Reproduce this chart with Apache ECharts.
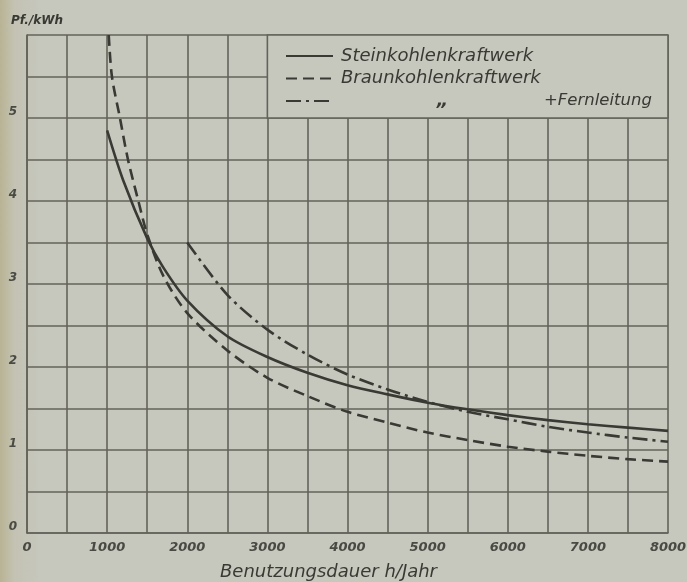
<!DOCTYPE html>
<html>
<head>
<meta charset="utf-8">
<script src="https://cdn.jsdelivr.net/npm/echarts@6/dist/echarts.min.js"></script>
<style>
html,body{margin:0;padding:0;width:687px;height:582px;overflow:hidden;
background:linear-gradient(to right,#b9b394 0px,#c3c2b3 14px,#c6c7bd 40px,#c6c7bd 100%);}
#c{width:687px;height:582px;}
</style>
</head>
<body>
<div id="c"></div>
<script>
// ---- data ----
const xTickLabels = ['0','1000','2000','3000','4000','5000','6000','7000','8000'];
const yTickLabels = ['0','1','2','3','4','5',''];

const seriesNames = ['Steinkohlenkraftwerk','Braunkohlenkraftwerk','Braunkohlenkraftwerk +Fernleitung'];

const steinHours = [1000,1200,1500,1700,2000,2500,3000,3500,4000,4500,5000,5500,6000,6500,7000,7500,8000];
const steinCost  = [4.85,4.25,3.55,3.2,2.8,2.37,2.12,1.93,1.78,1.67,1.57,1.49,1.42,1.36,1.31,1.27,1.23];

const braunHours = [1020,1060,1160,1260,1390,1500,1700,2000,2500,3000,3500,4000,4500,5000,5500,6000,6500,7000,7500,8000];
const braunCost  = [6.0,5.5,5.0,4.5,4.0,3.6,3.1,2.65,2.2,1.87,1.65,1.46,1.33,1.21,1.12,1.04,0.98,0.93,0.89,0.86];

const fernHours = [2000,2500,3000,3500,4000,4500,5000,5500,6000,6500,7000,7500,8000];
const fernCost  = [3.5,2.87,2.45,2.15,1.91,1.73,1.58,1.46,1.37,1.28,1.21,1.15,1.10];

const legendBox = [[3000,5],[8000,6]];

// ---- styling ----
const ink = '#3a3a35';
const gridInk = '#63635b';
const paper = '#c6c7bd';
const font = 'DejaVu Sans';

function pairs(xs, ys){ return xs.map((x,i)=>[x,ys[i]]); }

const chart = echarts.init(document.getElementById('c'), null, {renderer:'canvas'});
chart.setOption({
  backgroundColor: 'transparent',
  animation: false,
  grid: {left: 27, right: 19, top: 35, bottom: 49, containLabel: false, outerBoundsMode: 'none'},
  xAxis: {
    type: 'value', min: 0, max: 8000, interval: 1000,
    name: 'Benutzungsdauer h/Jahr', nameLocation: 'middle', nameGap: 30,
    nameTextStyle: {fontFamily: font, fontStyle: 'italic', fontSize: 18, color: ink, padding: [0, 38, 0, 0]},
    axisLine: {show: true, lineStyle: {color: gridInk, width: 1.6}},
    axisTick: {show: false},
    axisLabel: {
      margin: 8, fontFamily: font, fontStyle: 'italic', fontWeight: 'bold', fontSize: 13, color: '#4a4a44',
      formatter: (v) => xTickLabels[Math.round(v/1000)] ?? ''
    },
    splitLine: {show: true, lineStyle: {color: gridInk, width: 1.6}},
    minorTick: {show: false, splitNumber: 2},
    minorSplitLine: {show: true, lineStyle: {color: gridInk, width: 1.6}}
  },
  yAxis: {
    type: 'value', min: 0, max: 6, interval: 1,
    name: 'Pf./kWh', nameLocation: 'end', nameGap: 8,
    nameTextStyle: {fontFamily: font, fontStyle: 'italic', fontWeight: 'bold', fontSize: 12, color: ink, align: 'center', padding: [0, 0, 0, 20]},
    axisLine: {show: true, lineStyle: {color: gridInk, width: 1.6}},
    axisTick: {show: false},
    axisLabel: {
      margin: 10, fontFamily: font, fontStyle: 'italic', fontWeight: 'bold', fontSize: 12, color: '#4a4a44',
      verticalAlign: 'bottom',
      formatter: (v) => yTickLabels[Math.round(v)] ?? ''
    },
    splitLine: {show: true, lineStyle: {color: gridInk, width: 1.6}},
    minorTick: {show: false, splitNumber: 2},
    minorSplitLine: {show: true, lineStyle: {color: gridInk, width: 1.6}}
  },
  legend: {
    orient: 'vertical', left: 285, top: 47, padding: 0,
    itemWidth: 47, itemHeight: 14, itemGap: 4.5,
    itemStyle: {opacity: 0},
    data: seriesNames,
    textStyle: {fontFamily: font, fontStyle: 'italic', fontSize: 18, color: ink, lineHeight: 18, padding: [0,0,0,3],
      rich: {
        d: {fontFamily: font, fontWeight: 'bold', fontSize: 18, color: ink, width: 203, align: 'center', lineHeight: 18},
        f: {fontFamily: font, fontStyle: 'italic', fontSize: 16.5, color: ink, lineHeight: 18}
      }
    },
    formatter: (name) => name === seriesNames[2] ? '{d|\u201E}{f|+Fernleitung}' : name
  },
  series: [
    {
      name: seriesNames[0], type: 'line', data: pairs(steinHours, steinCost),
      smooth: 0.3, symbol: 'none', z: 5,
      lineStyle: {color: ink, width: 2.6, type: 'solid'}, itemStyle: {color: ink},
      markArea: {
        silent: true,
        itemStyle: {color: paper, borderColor: gridInk, borderWidth: 1.6},
        data: [[{coord: legendBox[0]}, {coord: legendBox[1]}]]
      }
    },
    {
      name: seriesNames[1], type: 'line', data: pairs(braunHours, braunCost),
      smooth: 0.3, symbol: 'none', z: 5,
      lineStyle: {color: ink, width: 2.6, type: [11, 6]}, itemStyle: {color: ink}
    },
    {
      name: seriesNames[2], type: 'line', data: pairs(fernHours, fernCost),
      smooth: 0.3, symbol: 'none', z: 5,
      lineStyle: {color: ink, width: 2.6, type: [15, 5, 3, 5]}, itemStyle: {color: ink}
    }
  ]
});
</script>
</body>
</html>
